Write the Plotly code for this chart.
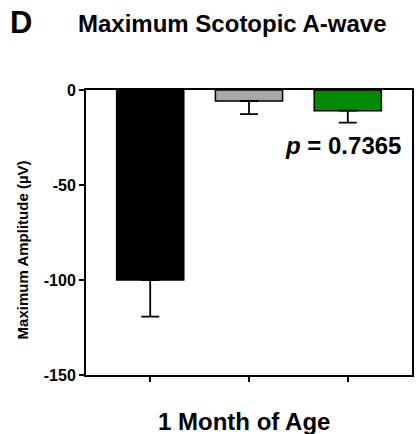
import plotly.graph_objects as go

groups = ["Group 1", "Group 2", "Group 3"]
means = [-100.0, -5.8, -10.9]
sem = [19.3, 6.9, 6.3]
colors = ["#000000", "#a8a8a8", "#008a00"]
y_ticks = [0, -50, -100, -150]
y_ticktext = ["0", "-50", "-100", "-150"]

FONT = "Liberation Sans, Arial, Helvetica, sans-serif"

W, H = 416, 434
ML, MR, MT, MB = 86, 2, 90, 59
pw, ph = W - ML - MR, H - MT - MB


def px(xp):
    return (xp - ML) / pw


def py(yp):
    return 1 - (yp - MT) / ph


fig = go.Figure()
fig.add_trace(go.Bar(
    x=list(range(len(groups))),
    y=means,
    width=0.68,
    marker=dict(color=colors, line=dict(color="black", width=1.5)),
    error_y=dict(type="data", symmetric=False, array=[0] * len(sem), arrayminus=sem,
                 color="black", thickness=1.8, width=9),
    showlegend=False,
))

fig.update_layout(
    width=W, height=H,
    margin=dict(l=ML, r=MR, t=MT, b=MB),
    plot_bgcolor="white", paper_bgcolor="white",
    font=dict(family=FONT, color="black"),
    xaxis=dict(range=[-0.65, 2.65], tickvals=[0, 1, 2], ticktext=["", "", ""],
               ticks="outside", ticklen=5, tickwidth=1.5, tickcolor="black",
               showline=True, linecolor="black", linewidth=2, mirror=True,
               showgrid=False, zeroline=False, fixedrange=True),
    yaxis=dict(range=[-150, 0], tickvals=y_ticks, ticktext=y_ticktext,
               ticks="outside", ticklen=5, tickwidth=1.5, tickcolor="black",
               tickfont=dict(size=16, family=FONT, color="black", weight="bold"),
               showline=True, linecolor="black", linewidth=2, mirror=True,
               showgrid=False, zeroline=False, fixedrange=True),
)

common = dict(xref="paper", yref="paper", showarrow=False,
              xanchor="center", yanchor="middle")
fig.add_annotation(text="<b>D</b>", x=px(21), y=py(23),
                   font=dict(size=31, family=FONT), **common)
fig.add_annotation(text="<b>Maximum Scotopic A-wave</b>", x=px(233), y=py(24),
                   font=dict(size=24, family=FONT), **common)
fig.add_annotation(text="<b>1 Month of Age</b>", x=px(245), y=py(421),
                   font=dict(size=24, family=FONT), **common)
fig.add_annotation(text="<b>Maximum Amplitude (µV)</b>", x=px(22), y=py(250),
                   textangle=-90, font=dict(size=15, family=FONT), **common)
fig.add_annotation(text="<b><i>p</i> = 0.7365</b>", x=1.95, y=-29, xref="x", yref="y",
                   showarrow=False, xanchor="center", yanchor="middle",
                   font=dict(size=24, family=FONT))

fig.write_html("out.html")
